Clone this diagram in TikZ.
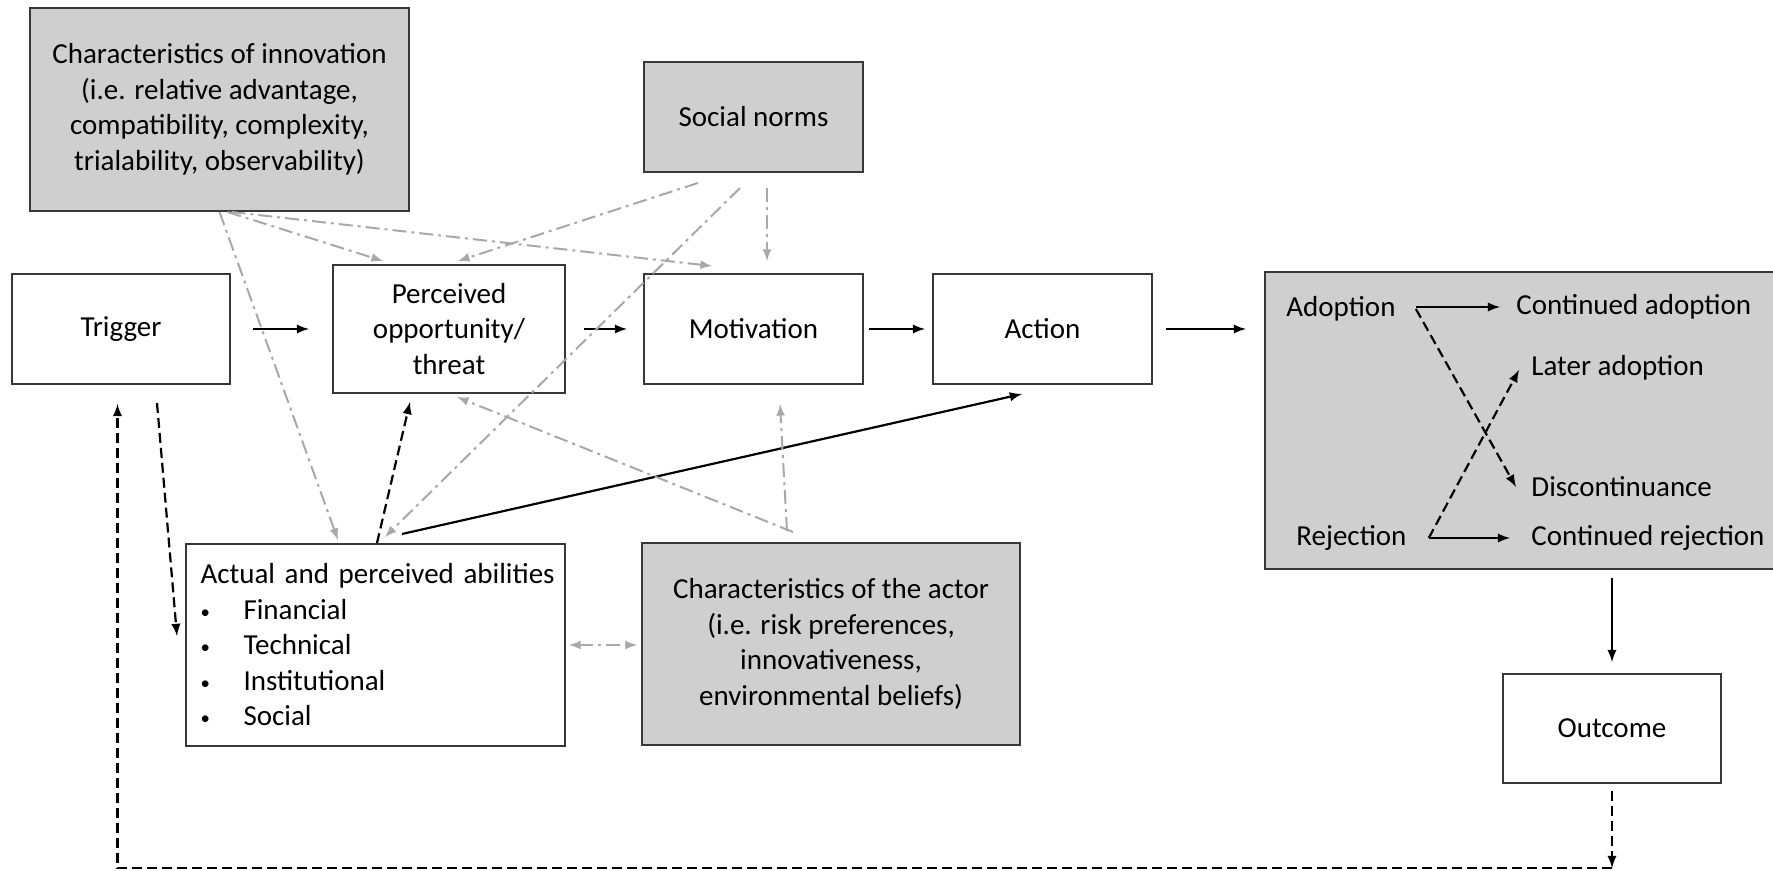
\documentclass[tikz,border=0pt]{standalone}
\usepackage{fontspec}
\setmainfont{Carlito}
\usetikzlibrary{arrows}

\definecolor{boxgrey}{gray}{0.81}
\definecolor{boxline}{gray}{0.22}
\definecolor{linkgrey}{gray}{0.66}

\newcommand{\dotitem}{\makebox[21.5pt][l]{\raisebox{0.6pt}{\scalebox{0.65}{\textbullet}}}}

\tikzset{
  box/.style={draw=boxline, line width=1pt, fill=white, align=center, inner sep=0pt},
  greybox/.style={box, fill=boxgrey},
  choice/.style={inner sep=0pt, anchor=west},
  flow/.style={-latex, line width=1.1pt},
  maybe/.style={flow, dash pattern=on 5pt off 2.5pt},
  influence/.style={-latex, draw=linkgrey, line width=1pt, dash pattern=on 7pt off 2.5pt on 1.5pt off 2.5pt}
}

\begin{document}
\begin{tikzpicture}[x=0.5pt, y=-0.5pt, font=\fontsize{14.5}{17.75}\selectfont]
\useasboundingbox (0,0) rectangle (1773,871);

% boxes
\node[greybox, minimum width=189.5pt, minimum height=101.5pt] (innov) at (219.5,109.5)
  {Characteristics of innovation\\(i.e. relative advantage,\\compatibility, complexity,\\trialability, observability)};
\node[greybox, minimum width=109.5pt, minimum height=55pt] (norms) at (753.5,117) {Social norms};
\node[box, minimum width=109pt, minimum height=55pt] (trigger) at (121,329) {Trigger};
\node[box, minimum width=116pt, minimum height=64pt] (percv) at (449,329) {Perceived\\opportunity/\\threat};
\node[box, minimum width=109.5pt, minimum height=55pt] (motiv) at (753.5,329) {Motivation};
\node[box, minimum width=109.5pt, minimum height=55pt] (action) at (1042.5,329) {Action};
\node[greybox, minimum width=262.5pt, minimum height=148.5pt] (result) at (1527.5,420.5) {};
\node[box, align=left, text width=175pt, minimum width=189.5pt, minimum height=101pt] (abil) at (375.5,645)
  {\mbox{Actual and perceived abilities}\\
   \dotitem Financial\\
   \dotitem Technical\\
   \dotitem Institutional\\
   \dotitem Social};
\node[greybox, minimum width=189pt, minimum height=101pt] (actor) at (831,644)
  {Characteristics of the actor\\(i.e. risk preferences,\\innovativeness,\\environmental beliefs)};
\node[box, minimum width=109pt, minimum height=54.5pt] (outcome) at (1612,728.5) {Outcome};

% inside the result box
\node[choice] (adopt) at (1286,309) {Adoption};
\node[choice] (contad) at (1516,307) {Continued adoption};
\node[choice] (later) at (1531,368) {Later adoption};
\node[choice] (discont) at (1531,487) {Discontinuance};
\node[choice] (reject) at (1296,538) {Rejection};
\node[choice] (contrej) at (1531,538) {Continued rejection};

\draw[flow, shorten <=10pt, shorten >=8pt] (contad.west -| adopt.east) -- (contad.west);
\draw[flow, shorten <=11pt, shorten >=10.5pt] (reject.east) -- (reject.east -| contrej.west);
\draw[maybe] ([xshift=10pt]adopt.east) -- ([xshift=-7.5pt]discont.west);
\draw[maybe] ([xshift=11pt]reject.east) -- ([xshift=-6pt,yshift=-1pt]later.west);

% main chain
\draw[flow, shorten <=11pt, shorten >=11.5pt] (trigger.east) -- (percv.west);
\draw[flow, shorten <=9pt, shorten >=8pt] (percv.east) -- (motiv.west);
\draw[flow, shorten <=2.5pt, shorten >=3.5pt] (motiv.east) -- (action.west);
\draw[flow, shorten <=6.5pt, shorten >=9pt] (action.east) -- (action.east -| result.west);
\draw[flow, shorten <=4pt, shorten >=5.5pt] (outcome.north |- result.south) -- (outcome.north);

% abilities
\draw[maybe] ([xshift=18pt,yshift=-9pt]trigger.south) -- ([xshift=-4pt,yshift=4.5pt]abil.west);
\draw[maybe] ([xshift=0.75pt,yshift=0pt]abil.north) -- ([xshift=-19.5pt,yshift=-4pt]percv.south);
\draw[flow] ([xshift=13.25pt,yshift=4.5pt]abil.north) -- ([xshift=-10.25pt,yshift=-4.5pt]action.south);

% feedback loop
\coordinate (loopR) at (1612,868);
\coordinate (loopL) at (117.5,868);
\draw[maybe, shorten <=3.5pt] (outcome.south) -- (loopR);
\draw[maybe] (loopR) -- (loopL) -- ([xshift=-1.75pt,yshift=-9.5pt]trigger.south);

% grey influences
\draw[influence] ([xshift=4pt]innov.south) -- ([xshift=-33pt,yshift=1.5pt]percv.north);
\draw[influence] ([xshift=6pt]innov.south) -- ([xshift=-20.75pt,yshift=3.5pt]motiv.north);
\draw[influence] (innov.south) -- ([xshift=-18.75pt,yshift=1.5pt]abil.north);
\draw[influence] ([xshift=-27.75pt,yshift=-5pt]norms.south) -- ([xshift=4.5pt,yshift=1.5pt]percv.north);
\draw[influence] ([xshift=-6.75pt,yshift=-7.5pt]norms.south) -- ([xshift=4.75pt,yshift=3pt]abil.north);
\draw[influence] ([xshift=6.75pt,yshift=-7.5pt]norms.south) -- ([xshift=6.75pt,yshift=6pt]motiv.north);
\draw[influence] ([xshift=-19pt,yshift=5pt]actor.north) -- ([xshift=4pt,yshift=-1.5pt]percv.south);
\draw[influence] ([xshift=-22pt,yshift=5.5pt]actor.north) -- ([xshift=13.25pt,yshift=-9.5pt]motiv.south);
\draw[influence, latex-latex, shorten <=1.5pt, shorten >=2pt] (abil.east) -- (abil.east -| actor.west);

\end{tikzpicture}
\end{document}
